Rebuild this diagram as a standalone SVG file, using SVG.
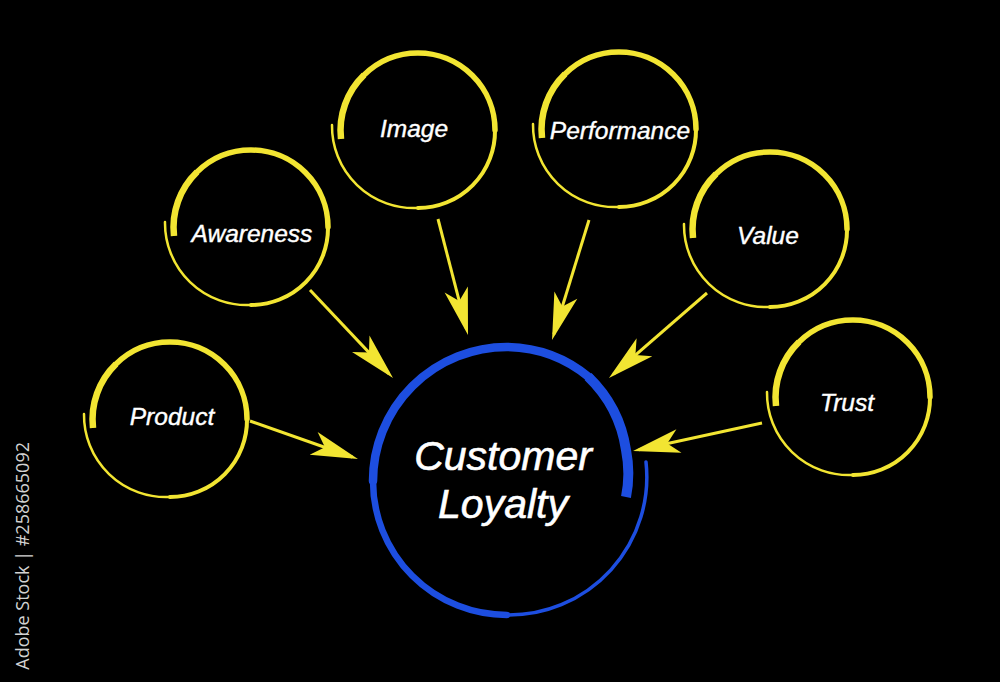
<svg xmlns="http://www.w3.org/2000/svg" xmlns:xlink="http://www.w3.org/1999/xlink" width="1000" height="682" viewBox="0 0 1000 682">
<style>
.y{fill:none;stroke:#f2e532}
.b{fill:none;stroke:#1d4ee0}
.lbl{font-family:"Liberation Sans",Arial,sans-serif;font-style:italic;fill:#ffffff;stroke:#ffffff;stroke-width:0.4;text-anchor:middle;font-size:24.5px}
.big{font-size:41px;stroke-width:0.6}
.conn{stroke:#f2e532;stroke-width:3;fill:none;marker-end:url(#ah)}
.wm{font-family:"Open Sans","DejaVu Sans",sans-serif;font-size:18px;fill:#d2d2d2}
</style>
<defs>
<marker id="ah" markerUnits="userSpaceOnUse" markerWidth="60" markerHeight="30" viewBox="-50 -15 60 30" refX="-6" refY="0" orient="auto">
<path d="M0,0 L-47,-12 L-35,0 L-47,12 Z" fill="#f2e532"/>
</marker>
<g id="ring">
<path class="y" stroke-width="6.5" stroke-linecap="butt" d="M-77,9 A77,77 0 0 1 -54,-55"/>
<path class="y" stroke-width="5.5" stroke-linecap="round" d="M-54,-55 A77,77 0 0 1 0,-77 A77,77 0 0 1 77,0"/>
<path class="y" stroke-width="4" stroke-linecap="round" d="M77,0 A77,77 0 0 1 0,78"/>
<path class="y" stroke-width="2.5" stroke-linecap="round" d="M0,78 A82,82 0 0 1 -86,-5"/>
</g>
</defs>
<rect width="1000" height="682" fill="#000"/>
<text class="wm" transform="translate(29,442) rotate(-90)" text-anchor="end">Adobe Stock  |  #258665092</text>
<g id="connectors">
<path class="conn" d="M250,421 L352.3,457"/>
<path class="conn" d="M310,290 L388.9,373.6"/>
<path class="conn" d="M438,219 L466.5,329.2"/>
<path class="conn" d="M589,220 L553.8,334.3"/>
<path class="conn" d="M707,293 L613.5,374.1"/>
<path class="conn" d="M762,423 L638.9,449.7"/>
</g>
<g id="customer-loyalty">
<path class="b" stroke-width="3.5" stroke-linecap="round" d="M646,462 A138,138 0 0 1 507,615"/>
<path class="b" stroke-width="6.5" stroke-linecap="round" d="M507,615 A134,134 0 0 1 373,481"/>
<path class="b" stroke-width="8.5" stroke-linecap="round" d="M373,481 A134,134 0 0 1 507,347 A132,132 0 0 1 590,378"/>
<path class="b" stroke-width="10" stroke-linecap="butt" d="M588,376.5 A128,128 0 0 1 626,450 A120,120 0 0 1 626,497"/>
<text class="lbl big" x="503" y="470">Customer</text>
<text class="lbl big" x="503" y="518">Loyalty</text>
</g>
<g id="product">
<use xlink:href="#ring" href="#ring" x="170" y="419"/>
<text class="lbl" x="172" y="425">Product</text>
</g>
<g id="awareness">
<use xlink:href="#ring" href="#ring" x="251" y="227"/>
<text class="lbl" x="252" y="242">Awareness</text>
</g>
<g id="image">
<use xlink:href="#ring" href="#ring" x="418" y="130"/>
<text class="lbl" x="414" y="137">Image</text>
</g>
<g id="performance">
<use xlink:href="#ring" href="#ring" x="619" y="129"/>
<text class="lbl" x="620" y="139">Performance</text>
</g>
<g id="value">
<use xlink:href="#ring" href="#ring" x="770" y="229"/>
<text class="lbl" x="768" y="244">Value</text>
</g>
<g id="trust">
<use xlink:href="#ring" href="#ring" x="853" y="397"/>
<text class="lbl" x="847" y="411">Trust</text>
</g>
</svg>
